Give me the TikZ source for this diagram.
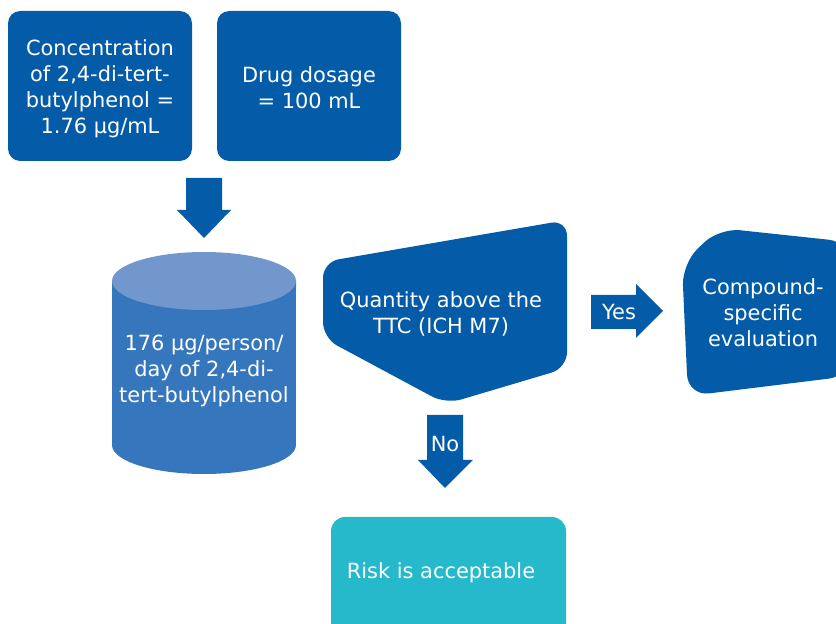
\documentclass[tikz,border=0pt]{standalone}
\usepackage{fontspec}
\setmainfont{DejaVu Sans}
\definecolor{navy}{HTML}{045BA8}
\definecolor{cylbody}{HTML}{3676BD}
\definecolor{cyltop}{HTML}{7297CC}
\definecolor{teal}{HTML}{26B8CB}

\begin{document}
\begin{tikzpicture}[
    x=0.02cm, y=-0.02cm,
    lab/.style={text=white, align=center, font=\fontsize{11.9}{14.8}\selectfont, inner sep=0pt},
    box/.style={fill=navy, rounded corners=7pt, minimum height=3.0cm, minimum width=3.68cm},
    block/.style={fill=navy}]
  % 836 x 624 px canvas
  \path[use as bounding box] (0,0) rectangle (836,624);

  % ================= inputs =================
  \fill[navy, rounded corners=7pt] (8,11) rectangle (192,161);
  \node[lab] (conc) at (100,89) {Concentration\\of 2,4-di-tert-\\butylphenol =\\1.76 µg/mL};
  \fill[navy, rounded corners=7pt] (217,11) rectangle (401,161);
  \node[lab] (dose) at (309,88) {Drug dosage\\= 100 mL};

  % down arrow into the daily intake
  \fill[block] (186,178) -- (222,178) -- (222,210) -- (231,210) -- (204,238)
    -- (177,210) -- (186,210) -- cycle;

  % ================= daily intake (cylinder) =================
  \fill[cylbody] (112,281) -- (112,445)
    arc[start angle=180, end angle=360, x radius=1.84cm, y radius=0.58cm] -- (296,281) -- cycle;
  \fill[cyltop] (204,281) ellipse[x radius=1.84cm, y radius=0.58cm];
  \node[lab] (intake) at (204,371) {176 µg/person/\\day of 2,4-di-\\tert-butylphenol};

  % ================= decision =================
  \fill[navy, rounded corners=9pt] (323,262) -- (567,220) -- (567,368) -- (446,404)
    -- (323,338) -- cycle;
  \node[lab] (ttc) at (441,314) {Quantity above the\\TTC (ICH M7)};

  % yes branch
  \fill[block] (591,295) -- (636,295) -- (636,284) -- (663,311) -- (636,338)
    -- (636,329) -- (591,329) -- cycle;
  \node[lab] (yes) at (619,312) {Yes};
  \fill[navy, rounded corners=12pt] (682,264) -- (719,228) -- (850,242) -- (850,376)
    -- (688,396) -- cycle;
  \node[lab] (comp) at (763,313) {Compound-\\specific\\evaluation};

  % no branch
  \fill[block] (427,415) -- (463,415) -- (463,460) -- (473,460) -- (445,488)
    -- (418,460) -- (427,460) -- cycle;
  \node[lab] (no) at (445,444) {No};
  \fill[teal, rounded corners=8pt] (331,517) rectangle (566,660);
  \node[lab] (risk) at (441,573) {Risk is acceptable};
\end{tikzpicture}
\end{document}
